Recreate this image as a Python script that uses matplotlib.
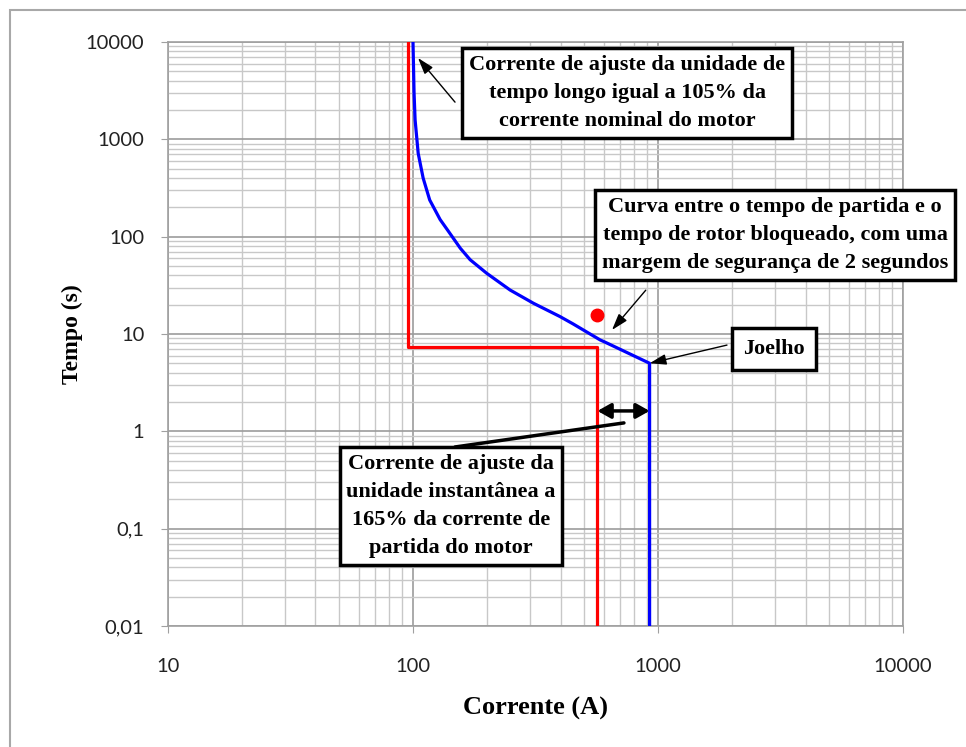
import matplotlib.pyplot as plt
from matplotlib.patches import Rectangle
from matplotlib.ticker import FixedLocator, FixedFormatter, LogLocator, NullFormatter

# Curva do motor (vermelho): corrente nominal e partida
motor_corrente = [95, 95, 566, 566]
motor_tempo = [10000, 7.35, 7.35, 0.01]

# Curva do relé (azul): tempo longo + unidade instantânea
rele_corrente = [100, 101, 102, 105, 110, 117, 123, 129, 139, 156, 171, 200,
                 249, 310, 398, 450, 580, 619, 924, 924]
rele_tempo = [10000, 3000, 1580, 718, 400, 238, 188, 150, 115, 76, 58, 42,
              28.3, 20.7, 15.1, 12.7, 8.7, 8.07, 5.0, 0.01]

# Ponto de rotor bloqueado
rotor_corrente = [566]
rotor_tempo = [15.7]

x_ticks = [10, 100, 1000, 10000]
x_labels = ['10', '100', '1000', '10000']
y_ticks = [0.01, 0.1, 1, 10, 100, 1000, 10000]
y_labels = ['0,01', '0,1', '1', '10', '100', '1000', '10000']

fig = plt.figure(figsize=(9.66, 7.47), dpi=100)
ax = fig.add_axes([0.1739, 0.162, 0.7609, 0.7818])

ax.plot(motor_corrente, motor_tempo, color='#ff0000', lw=2.3, zorder=3)
ax.plot(rele_corrente, rele_tempo, color='#0000ff', lw=2.3, zorder=3,
        solid_joinstyle='round')
ax.plot(rotor_corrente, rotor_tempo, 'o', color='#ff0000', ms=9, zorder=4)

ax.set_xscale('log')
ax.set_yscale('log')
ax.set_xlim(10, 10000)
ax.set_ylim(0.01, 10000)

ax.xaxis.set_major_locator(FixedLocator(x_ticks))
ax.xaxis.set_major_formatter(FixedFormatter(x_labels))
ax.yaxis.set_major_locator(FixedLocator(y_ticks))
ax.yaxis.set_major_formatter(FixedFormatter(y_labels))
for axis in (ax.xaxis, ax.yaxis):
    axis.set_minor_locator(LogLocator(base=10, subs=range(2, 10), numticks=20))
    axis.set_minor_formatter(NullFormatter())

ax.grid(True, which='major', color='#9c9c9c', lw=1.2)
ax.grid(True, which='minor', color='#c8c8c8', lw=1.0)
ax.set_axisbelow(True)
for s in ax.spines.values():
    s.set_color('#a0a0a0')
    s.set_linewidth(1.2)

ax.tick_params(which='minor', length=0)
ax.tick_params(axis='x', which='major', length=5, color='#a0a0a0', pad=18,
               labelsize=14.5, labelcolor='#222222')
ax.tick_params(axis='y', which='major', length=5, color='#a0a0a0', pad=12,
               labelsize=14.5, labelcolor='#222222')
for lbl in ax.get_xticklabels() + ax.get_yticklabels():
    lbl.set_family('Lato')

serif = dict(family='Liberation Serif', weight='bold')
ax.set_xlabel('Corrente (A)', fontsize=19, labelpad=16, **serif)
ax.set_ylabel('Tempo (s)', fontsize=17, labelpad=2, **serif)

caixa = dict(boxstyle='square,pad=0.3', fc='white', ec='black', lw=2.5)
seta = dict(arrowstyle='-|>,head_length=1.0,head_width=0.32', color='black',
            lw=1.0, shrinkA=0, shrinkB=0)
fs = 16
ls = 1.55

ax.text(0.6245, 0.9127,
        'Corrente de ajuste da unidade de\ntempo longo igual a 105% da\ncorrente nominal do motor',
        transform=ax.transAxes, ha='center', va='center', fontsize=fs,
        linespacing=ls, bbox=caixa, zorder=5, **serif)
ax.annotate('', xy=(104.8, 6850), xytext=(0.3905, 0.897),
            textcoords='axes fraction', arrowprops=seta, zorder=5)

ax.text(0.826, 0.6695,
        'Curva entre o tempo de partida e o\ntempo de rotor bloqueado, com uma\nmargem de segurança de 2 segundos',
        transform=ax.transAxes, ha='center', va='center', fontsize=fs,
        linespacing=ls, bbox=caixa, zorder=5, **serif)
ax.annotate('', xy=(649, 11.0), xytext=(0.650, 0.575),
            textcoords='axes fraction', arrowprops=seta, zorder=5)

ax.text(0.8245, 0.4743, 'Joelho', transform=ax.transAxes, ha='center',
        va='center', fontsize=fs, bbox=dict(boxstyle='square,pad=0.5',
        fc='white', ec='black', lw=2.5), zorder=5, **serif)
ax.annotate('', xy=(rele_corrente[18], rele_tempo[18]), xytext=(0.7605, 0.481),
            textcoords='axes fraction', arrowprops=seta, zorder=5)

ax.text(0.385, 0.2055,
        'Corrente de ajuste da\nunidade instantânea a\n165% da corrente de\npartida do motor',
        transform=ax.transAxes, ha='center', va='center', fontsize=fs,
        linespacing=ls, bbox=caixa, zorder=5, **serif)
ax.annotate('', xy=(726, 1.22), xytext=(0.3905, 0.3065),
            textcoords='axes fraction',
            arrowprops=dict(arrowstyle='-', color='black', lw=2.5,
                            shrinkA=0, shrinkB=0), zorder=5)

# Margem entre a partida e a unidade instantânea
ax.annotate('', xy=(motor_corrente[2], 1.62), xytext=(rele_corrente[18], 1.62),
            arrowprops=dict(arrowstyle='<|-|>,head_length=0.8,head_width=0.45',
                            color='black', lw=2.5, shrinkA=0, shrinkB=0),
            zorder=5)

# Moldura externa
fig.patches.append(Rectangle((10, -10), 980, 747, transform=None, fill=False,
                             ec='#a8a8a8', lw=1.5))

fig.savefig('out.png', dpi=100)
